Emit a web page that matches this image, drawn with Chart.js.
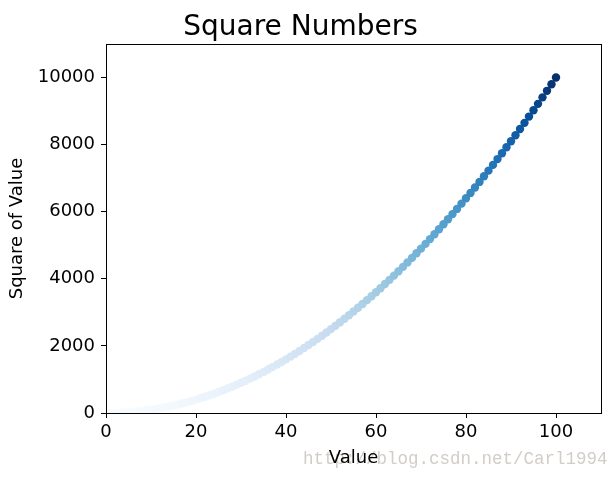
<!DOCTYPE html>
<html>
<head>
<meta charset="utf-8">
<script src="https://cdn.jsdelivr.net/npm/chart.js@4"></script>
<style>
  body { margin: 0; background: #fff; }
</style>
</head>
<body>
<canvas id="chart" width="615" height="477"></canvas>
<script>
const xValues = [1,2,3,4,5,6,7,8,9,10,11,12,13,14,15,16,17,18,19,20,
  21,22,23,24,25,26,27,28,29,30,31,32,33,34,35,36,37,38,39,40,
  41,42,43,44,45,46,47,48,49,50,51,52,53,54,55,56,57,58,59,60,
  61,62,63,64,65,66,67,68,69,70,71,72,73,74,75,76,77,78,79,80,
  81,82,83,84,85,86,87,88,89,90,91,92,93,94,95,96,97,98,99,100];
const yValues = [1,4,9,16,25,36,49,64,81,100,121,144,169,196,225,256,289,324,361,400,
  441,484,529,576,625,676,729,784,841,900,961,1024,1089,1156,1225,1296,1369,1444,1521,1600,
  1681,1764,1849,1936,2025,2116,2209,2304,2401,2500,2601,2704,2809,2916,3025,3136,3249,3364,3481,3600,
  3721,3844,3969,4096,4225,4356,4489,4624,4761,4900,5041,5184,5329,5476,5625,5776,5929,6084,6241,6400,
  6561,6724,6889,7056,7225,7396,7569,7744,7921,8100,8281,8464,8649,8836,9025,9216,9409,9604,9801,10000];
const xTicks = [0, 20, 40, 60, 80, 100];
const yTicks = [0, 2000, 4000, 6000, 8000, 10000];

// matplotlib "Blues"
const blues = [[247,251,255],[222,235,247],[198,219,239],[158,202,225],[107,174,214],
  [66,146,198],[33,113,181],[8,81,156],[8,48,107]];
function bluesAt(t) {
  t = Math.max(0, Math.min(1, t)) * (blues.length - 1);
  const i = Math.min(Math.floor(t), blues.length - 2), f = t - i;
  const c = blues[i].map((v, k) => Math.round(v + (blues[i + 1][k] - v) * f));
  return `rgb(${c[0]},${c[1]},${c[2]})`;
}
const yMin = Math.min(...yValues), yMax = Math.max(...yValues);
const pointColors = yValues.map(v => bluesAt((v - yMin) / (yMax - yMin)));

const font = "'DejaVu Sans', sans-serif";

const framePlugin = {
  id: "frame",
  beforeDraw(chart) {
    const ctx = chart.ctx;
    ctx.save();
    ctx.font = "17.5px 'Liberation Mono', monospace";
    ctx.fillStyle = "#d2cdc6";
    ctx.textBaseline = "alphabetic";
    ctx.fillText("http://blog.csdn.net/Carl1994", 303, 464);
    ctx.restore();
  },
  afterDraw(chart) {
    const { left, right, top, bottom } = chart.chartArea;
    const ctx = chart.ctx;
    ctx.save();
    ctx.strokeStyle = "#000";
    ctx.lineWidth = 1;
    ctx.strokeRect(Math.round(left) + 0.5, Math.round(top) + 0.5,
      Math.round(right - left), Math.round(bottom - top));
    ctx.restore();
  }
};

new Chart(document.getElementById("chart"), {
  type: "scatter",
  data: {
    datasets: [{
      data: xValues.map((x, i) => ({ x, y: yValues[i] })),
      backgroundColor: pointColors,
      borderWidth: 0,
      pointRadius: 4.2,
      pointHoverRadius: 4.2
    }]
  },
  options: {
    responsive: false,
    animation: false,
    layout: { padding: { left: 0, right: 14, top: 0, bottom: 0 } },
    plugins: {
      legend: { display: false },
      tooltip: { enabled: false },
      title: {
        display: true,
        text: "Square Numbers",
        color: "#000",
        font: { family: font, size: 28, weight: "normal", lineHeight: 1 },
        padding: { top: 14, bottom: 2 }
      }
    },
    scales: {
      x: {
        type: "linear",
        min: 0, max: 110,
        afterBuildTicks: s => { s.ticks = xTicks.map(v => ({ value: v })); },
        afterFit: s => { s.height = 64; },
        grid: { drawOnChartArea: false, drawTicks: true, tickLength: 5, color: "#000" },
        border: { display: false },
        ticks: { color: "#000", padding: 4, maxRotation: 0, font: { family: font, size: 18 } },
        title: {
          display: true, text: "Value", color: "#000",
          font: { family: font, size: 18 }, padding: { top: 0, bottom: 8 }
        }
      },
      y: {
        type: "linear",
        min: 0, max: 11000,
        afterBuildTicks: s => { s.ticks = yTicks.map(v => ({ value: v })); },
        afterFit: s => { s.width = 106; },
        grid: { drawOnChartArea: false, drawTicks: true, tickLength: 5, color: "#000" },
        border: { display: false },
        ticks: { color: "#000", padding: 6, font: { family: font, size: 18 }, callback: v => String(v) },
        title: {
          display: true, text: "Square of Value", color: "#000",
          font: { family: font, size: 18 }, padding: { top: 7, bottom: 0 }
        }
      }
    }
  },
  plugins: [framePlugin]
});
</script>
</body>
</html>
